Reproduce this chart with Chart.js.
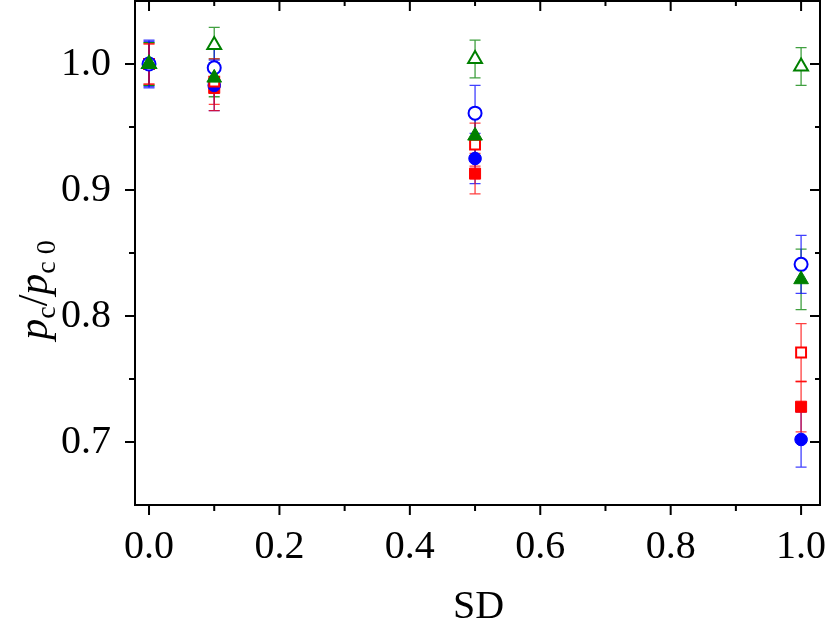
<!DOCTYPE html>
<html>
<head>
<meta charset="utf-8">
<script src="https://cdn.jsdelivr.net/npm/chart.js@4"></script>
<style>
  html, body { margin: 0; padding: 0; background: #fff; }
  #wrap { width: 830px; height: 630px; }
</style>
</head>
<body>
<div id="wrap"><canvas id="pcChart" width="830" height="630"></canvas></div>
<script>
// data
const sdValues = [0, 0.1, 0.5, 1.0];

const redFilled = [1.000, 0.981, 0.913, 0.728];
const redFilledErr = [0.016, 0.018, 0.016, 0.020];
const redOpen = [1.000, 0.986, 0.936, 0.771];
const redOpenErr = [0.016, 0.018, 0.017, 0.023];
const blueFilled = [1.000, 0.983, 0.925, 0.702];
const blueFilledErr = [0.019, 0.020, 0.020, 0.022];
const blueOpen = [1.000, 0.997, 0.961, 0.841];
const blueOpenErr = [0.018, 0.017, 0.022, 0.023];
const greenFilled = [1.000, 0.989, 0.943, 0.829];
const greenFilledErr = [0.017, 0.015, 0.016, 0.024];
const greenOpen = [1.000, 1.015, 1.004, 0.998];
const greenOpenErr = [0.017, 0.014, 0.015, 0.015];

const xTicks = [0, 0.1, 0.2, 0.3, 0.4, 0.5, 0.6, 0.7, 0.8, 0.9, 1.0];
const xLabelTicks = [0, 0.2, 0.4, 0.6, 0.8, 1.0];
const yTicks = [0.7, 0.75, 0.8, 0.85, 0.9, 0.95, 1.0];
const yLabelTicks = [0.7, 0.8, 0.9, 1.0];

const RED = '#ff0000', BLUE = '#0000ff', GREEN = '#008000';
const SERIF = '"Liberation Serif", "Times New Roman", serif';

function pts(ys) {
    return sdValues.map((x, i) => ({ x: x, y: ys[i] }));
}
function isMajor(list, v) {
    return list.some(m => Math.abs(m - v) < 1e-6);
}
function noPad(s) {
    s.paddingLeft = 0; s.paddingRight = 0; s.paddingTop = 0; s.paddingBottom = 0;
}

function series(label, ys, errs, color, style, filled, radius) {
    return {
        label: label,
        data: pts(ys),
        errorBars: errs,
        errColor: color,
        pointStyle: style,
        pointRadius: radius,
        pointBorderWidth: filled ? 1 : 2,
        pointBorderColor: color,
        pointBackgroundColor: filled ? color : '#ffffff',
        showLine: false,
        clip: false
    };
}

// error bars under the markers
const errorBarPlugin = {
    id: 'errorBars',
    beforeDatasetsDraw(chart) {
        const ctx = chart.ctx;
        const xs = chart.scales.x, ys = chart.scales.y;
        ctx.save();
        ctx.lineWidth = 1.3;
        chart.data.datasets.forEach(ds => {
            if (!ds.errorBars) return;
            ctx.strokeStyle = ds.errColor;
            ctx.globalAlpha = 0.75;
            ds.data.forEach((p, i) => {
                const e = ds.errorBars[i];
                const px = xs.getPixelForValue(p.x);
                const top = ys.getPixelForValue(p.y + e);
                const bot = ys.getPixelForValue(p.y - e);
                ctx.beginPath();
                ctx.moveTo(px, top);
                ctx.lineTo(px, bot);
                ctx.moveTo(px - 5.5, top);
                ctx.lineTo(px + 5.5, top);
                ctx.moveTo(px - 5.5, bot);
                ctx.lineTo(px + 5.5, bot);
                ctx.stroke();
            });
        });
        ctx.restore();
    }
};

// frame, major/minor ticks on all four sides, and the axis titles
const framePlugin = {
    id: 'frame',
    afterDraw(chart) {
        const ctx = chart.ctx;
        const a = chart.chartArea;
        const xs = chart.scales.x, ys = chart.scales.y;
        ctx.save();
        ctx.strokeStyle = '#000';
        ctx.lineWidth = 2;
        ctx.strokeRect(a.left, a.top, a.right - a.left, a.bottom - a.top);

        ctx.beginPath();
        xTicks.forEach(v => {
            const px = xs.getPixelForValue(v);
            const major = isMajor(xLabelTicks, v);
            ctx.moveTo(px, a.bottom);
            ctx.lineTo(px, a.bottom + (major ? 10 : 6));
            ctx.moveTo(px, a.top);
            ctx.lineTo(px, a.top + (major ? 10 : 5));
        });
        yTicks.forEach(v => {
            const py = ys.getPixelForValue(v);
            const major = isMajor(yLabelTicks, v);
            ctx.moveTo(a.left, py);
            ctx.lineTo(a.left - (major ? 10 : 6), py);
            ctx.moveTo(a.right, py);
            ctx.lineTo(a.right - (major ? 10 : 5), py);
        });
        ctx.stroke();

        // x title
        ctx.fillStyle = '#000';
        ctx.font = '40px ' + SERIF;
        ctx.textAlign = 'center';
        ctx.textBaseline = 'alphabetic';
        ctx.fillText('SD', (a.left + a.right) / 2 + 1, 618);

        // y title: p_c / p_c0
        const parts = [
            { t: 'p', f: 'italic 42px ' + SERIF, dy: 0 },
            { t: 'c', f: '28px ' + SERIF, dy: 8 },
            { t: '/', f: '42px ' + SERIF, dy: 0 },
            { t: 'p', f: 'italic 42px ' + SERIF, dy: 0 },
            { t: 'c 0', f: '28px ' + SERIF, dy: 8 }
        ];
        let total = 0;
        parts.forEach(p => { ctx.font = p.f; p.w = ctx.measureText(p.t).width; total += p.w; });
        ctx.translate(47, 290);
        ctx.rotate(-Math.PI / 2);
        ctx.textAlign = 'left';
        let cx = -total / 2;
        parts.forEach(p => {
            ctx.font = p.f;
            ctx.fillText(p.t, cx, p.dy);
            cx += p.w;
        });
        ctx.restore();
    }
};

const tickFont = { family: SERIF, size: 40 };

new Chart(document.getElementById('pcChart').getContext('2d'), {
    type: 'scatter',
    data: {
        datasets: [
            series('green filled', greenFilled, greenFilledErr, GREEN, 'triangle', true, 8.5),
            series('green open', greenOpen, greenOpenErr, GREEN, 'triangle', false, 8),
            series('blue open', blueOpen, blueOpenErr, BLUE, 'circle', false, 6.5),
            series('red open', redOpen, redOpenErr, RED, 'rect', false, 7),
            series('blue filled', blueFilled, blueFilledErr, BLUE, 'circle', true, 6.3),
            series('red filled', redFilled, redFilledErr, RED, 'rect', true, 7.8)
        ]
    },
    options: {
        responsive: false,
        animation: false,
        events: [],
        layout: { autoPadding: false, padding: { left: 0, right: 10, top: 1, bottom: 0 } },
        plugins: { legend: { display: false }, tooltip: { enabled: false } },
        scales: {
            x: {
                type: 'linear',
                min: -0.0215,
                max: 1.029,
                afterBuildTicks: s => { s.ticks = xLabelTicks.map(v => ({ value: v })); },
                afterFit: s => { s.height = 125; noPad(s); },
                grid: { display: false },
                border: { display: false },
                ticks: {
                    font: tickFont,
                    color: '#000',
                    padding: 10,
                    maxRotation: 0,
                    autoSkip: false,
                    callback: v => v.toFixed(1)
                }
            },
            y: {
                type: 'linear',
                min: 0.65,
                max: 1.05,
                afterBuildTicks: s => { s.ticks = yLabelTicks.map(v => ({ value: v })); },
                afterFit: s => { s.width = 135; noPad(s); },
                grid: { display: false },
                border: { display: false },
                ticks: {
                    font: tickFont,
                    color: '#000',
                    padding: 16,
                    autoSkip: false,
                    callback: v => v.toFixed(1)
                }
            }
        }
    },
    plugins: [errorBarPlugin, framePlugin]
});
</script>
</body>
</html>
